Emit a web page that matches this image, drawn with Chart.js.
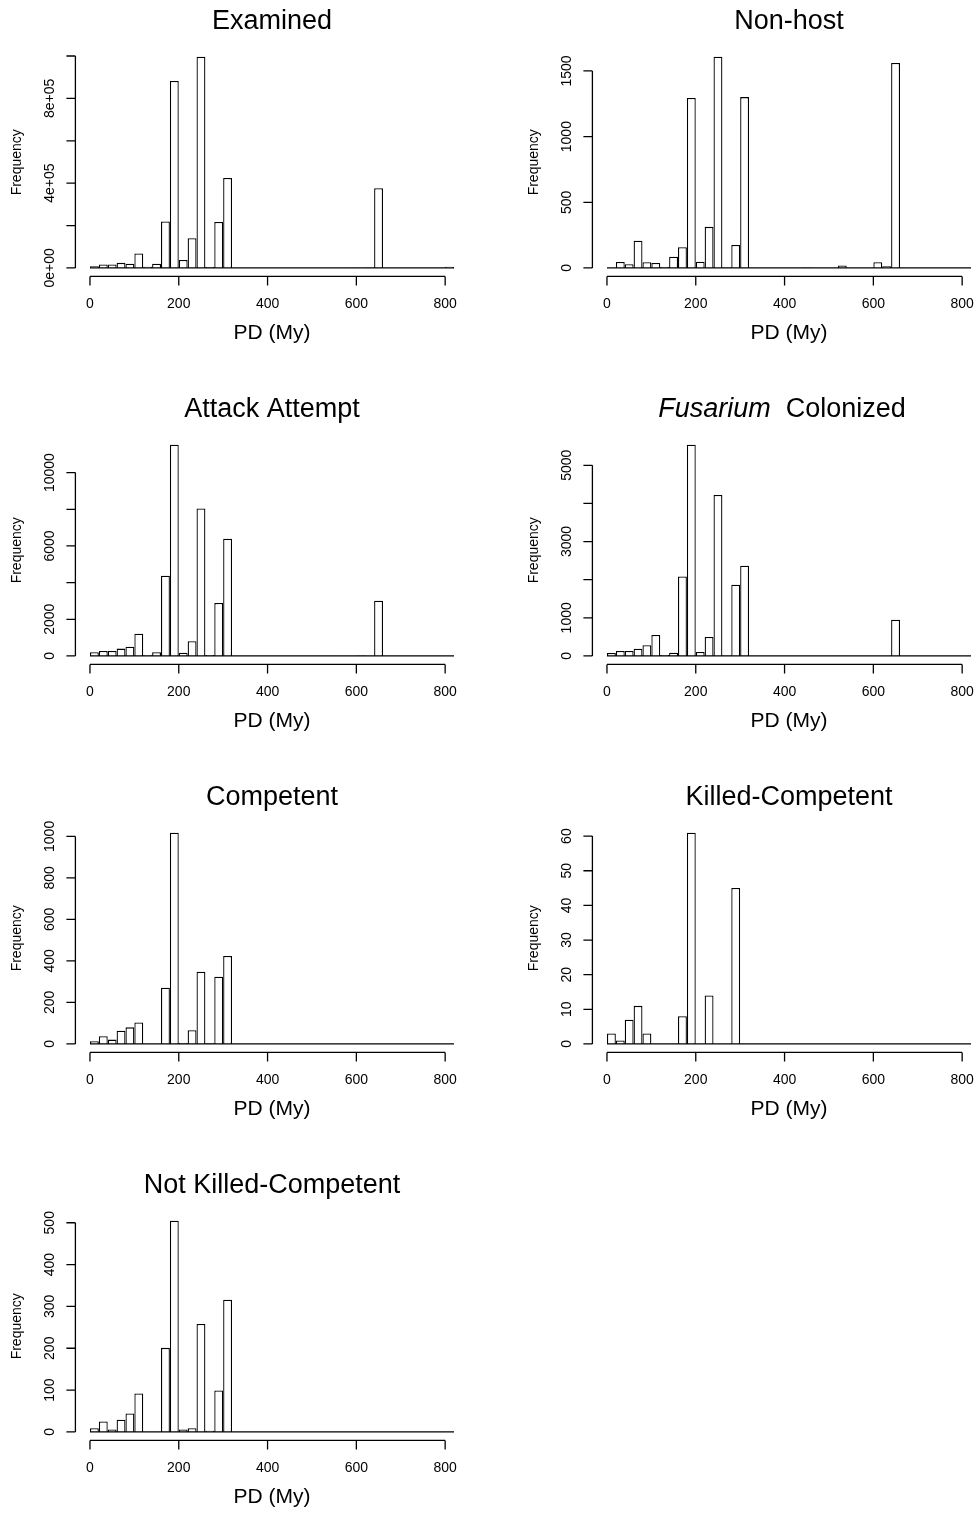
<!DOCTYPE html>
<html>
<head>
<meta charset="utf-8">
<script src="https://cdn.jsdelivr.net/npm/chart.js@4.4.1/dist/chart.umd.min.js"></script>
<style>
  html, body { margin: 0; padding: 0; background: #ffffff; overflow: hidden; width: 977px; height: 1514px; }
  canvas { position: absolute; }
</style>
</head>
<body>
<script>
// ---------- data ----------
const binCenters = [10, 30, 50, 70, 90, 110, 130, 150, 170, 190, 210, 230, 250, 270, 290, 310, 330, 350, 370, 390,
                    410, 430, 450, 470, 490, 510, 530, 550, 570, 590, 610, 630, 650, 670, 690, 710, 730, 750, 770, 790, 810];
const binRange = [0, 820];
const xTicks = [0, 200, 400, 600, 800];
const xTickLabels = ["0", "200", "400", "600", "800"];
const xAxisTitle = "PD (My)";
const yAxisTitle = "Frequency";

const examinedCounts = [8000, 16000, 16000, 24000, 20000, 68000, 6000, 20000, 219000, 882000, 38000, 140000, 997000, 5000, 217000, 425000,
                        0, 0, 0, 0, 0, 0, 0, 0, 0, 0, 0, 0, 0, 1000, 1500, 2500, 376000, 0, 0, 0, 0, 0, 0, 0, 6000];
const examinedYTicks = [0, 200000, 400000, 600000, 800000, 1000000];
const examinedYLabels = ["0e+00", "", "4e+05", "", "8e+05", ""];

const nonHostCounts = [0, 46, 28, 208, 43, 38, 8, 86, 158, 1294, 48, 313, 1609, 3, 175, 1301,
                       0, 0, 0, 0, 0, 0, 3, 0, 0, 0, 18, 0, 0, 0, 43, 13, 1561, 0, 0, 0, 0, 0, 0, 0, 0];
const nonHostYTicks = [0, 500, 1000, 1500];
const nonHostYLabels = ["0", "500", "1000", "1500"];

const attackCounts = [200, 272, 272, 400, 508, 1216, 36, 200, 4374, 11525, 181, 800, 8040, 54, 2886, 6390,
                      0, 0, 0, 0, 0, 0, 0, 0, 0, 0, 10, 0, 0, 0, 30, 0, 3013, 0, 0, 0, 0, 0, 0, 0, 0];
const attackYTicks = [0, 2000, 4000, 6000, 8000, 10000];
const attackYLabels = ["0", "2000", "", "6000", "", "10000"];

const fusariumCounts = [79, 131, 131, 192, 279, 550, 26, 87, 2086, 5541, 105, 497, 4223, 9, 1867, 2365,
                        0, 0, 0, 0, 0, 0, 0, 0, 0, 0, 5, 0, 0, 0, 0, 0, 951, 0, 0, 0, 0, 0, 0, 0, 0];
const fusariumYTicks = [0, 1000, 2000, 3000, 4000, 5000];
const fusariumYLabels = ["0", "1000", "", "3000", "", "5000"];

const competentCounts = [13, 37, 21, 64, 80, 103, 0, 0, 271, 1018, 5, 66, 348, 3, 324, 424,
                         0, 0, 0, 0, 0, 0, 0, 0, 0, 0, 0, 0, 0, 0, 0, 0, 0, 0, 0, 0, 0, 0, 0, 0, 0];
const competentYTicks = [0, 200, 400, 600, 800, 1000];
const competentYLabels = ["0", "200", "400", "600", "800", "1000"];

const killedCounts = [3, 1, 7, 11, 3, 0, 0, 0, 8, 61, 0, 14, 0, 0, 45, 0,
                      0, 0, 0, 0, 0, 0, 0, 0, 0, 0, 0, 0, 0, 0, 0, 0, 0, 0, 0, 0, 0, 0, 0, 0, 0];
const killedYTicks = [0, 10, 20, 30, 40, 50, 60];
const killedYLabels = ["0", "10", "20", "30", "40", "50", "60"];

const notKilledCounts = [9, 25, 6, 29, 44, 92, 0, 0, 201, 505, 6, 9, 258, 3, 99, 316,
                         0, 0, 0, 0, 0, 0, 0, 0, 0, 0, 0, 0, 0, 0, 0, 0, 0, 0, 0, 0, 0, 0, 0, 0, 0];
const notKilledYTicks = [0, 100, 200, 300, 400, 500];
const notKilledYLabels = ["0", "100", "200", "300", "400", "500"];

// ---------- layout ----------
const CELL_W = 517, CELL_H = 388;
const AREA = { left: 75.4, right: 468.6, top: 48.2, bottom: 276.4 };
const FONT = '"Liberation Sans", Arial, Helvetica, sans-serif';
const LW = 1.3;

const panels = [
  { title: [{ text: "Examined" }], counts: examinedCounts, yTicks: examinedYTicks, yLabels: examinedYLabels, col: 0, row: 0 },
  { title: [{ text: "Non-host" }], counts: nonHostCounts, yTicks: nonHostYTicks, yLabels: nonHostYLabels, col: 1, row: 0 },
  { title: [{ text: "Attack Attempt" }], counts: attackCounts, yTicks: attackYTicks, yLabels: attackYLabels, col: 0, row: 1 },
  { title: [{ text: "Fusarium", italic: true }, { text: "  Colonized" }], titleShift: -7, counts: fusariumCounts, yTicks: fusariumYTicks, yLabels: fusariumYLabels, col: 1, row: 1 },
  { title: [{ text: "Competent" }], counts: competentCounts, yTicks: competentYTicks, yLabels: competentYLabels, col: 0, row: 2 },
  { title: [{ text: "Killed-Competent" }], counts: killedCounts, yTicks: killedYTicks, yLabels: killedYLabels, col: 1, row: 2 },
  { title: [{ text: "Not Killed-Competent" }], counts: notKilledCounts, yTicks: notKilledYTicks, yLabels: notKilledYLabels, col: 0, row: 3 }
];

// R-style axes drawn from the chart's own scales
const rAxesPlugin = {
  id: 'rAxes',
  afterDatasetsDraw(chart, args, opts) {
    const ctx = chart.ctx;
    const xs = chart.scales.x, ys = chart.scales.y;
    const ca = chart.chartArea;
    ctx.save();
    ctx.strokeStyle = '#000';
    ctx.fillStyle = '#000';
    ctx.lineWidth = LW;
    ctx.lineCap = 'butt';

    // zero-height bars form the baseline across the whole bin range
    const y0 = ys.getPixelForValue(0);
    ctx.beginPath();
    ctx.moveTo(xs.getPixelForValue(binRange[0]), y0);
    ctx.lineTo(xs.getPixelForValue(binRange[1]), y0);
    ctx.stroke();

    // x axis
    const xb = ca.bottom;
    ctx.beginPath();
    ctx.moveTo(xs.getPixelForValue(xTicks[0]), xb);
    ctx.lineTo(xs.getPixelForValue(xTicks[xTicks.length - 1]), xb);
    xTicks.forEach(v => {
      const px = xs.getPixelForValue(v);
      ctx.moveTo(px, xb);
      ctx.lineTo(px, xb + 9);
    });
    ctx.stroke();
    ctx.font = '14px ' + FONT;
    ctx.textAlign = 'center';
    ctx.textBaseline = 'middle';
    xTicks.forEach((v, i) => {
      ctx.fillText(xTickLabels[i], xs.getPixelForValue(v), xb + 27.5);
    });
    ctx.font = '21px ' + FONT;
    ctx.textBaseline = 'alphabetic';
    ctx.fillText(xAxisTitle, (ca.left + ca.right) / 2, xb + 63);

    // y axis
    const yl = ca.left;
    const yt = opts.yTicks, yLab = opts.yLabels;
    ctx.beginPath();
    ctx.moveTo(yl, ys.getPixelForValue(yt[0]));
    ctx.lineTo(yl, ys.getPixelForValue(yt[yt.length - 1]));
    yt.forEach(v => {
      const py = ys.getPixelForValue(v);
      ctx.moveTo(yl, py);
      ctx.lineTo(yl - 9, py);
    });
    ctx.stroke();
    ctx.font = '14px ' + FONT;
    ctx.textAlign = 'center';
    ctx.textBaseline = 'middle';
    yt.forEach((v, i) => {
      if (!yLab[i]) return;
      ctx.save();
      ctx.translate(yl - 25.5, ys.getPixelForValue(v));
      ctx.rotate(-Math.PI / 2);
      ctx.fillText(yLab[i], 0, 0);
      ctx.restore();
    });
    ctx.save();
    ctx.translate(yl - 58.5, (ca.top + ca.bottom) / 2);
    ctx.rotate(-Math.PI / 2);
    ctx.fillText(yAxisTitle, 0, 0);
    ctx.restore();

    // main title (may mix italic and plain parts)
    const parts = opts.title;
    const fontOf = p => (p.italic ? 'italic ' : '') + '27px ' + FONT;
    let total = 0;
    parts.forEach(p => { ctx.font = fontOf(p); total += ctx.measureText(p.text).width; });
    let tx = (ca.left + ca.right) / 2 - total / 2 + (opts.titleShift || 0);
    ctx.textAlign = 'left';
    ctx.textBaseline = 'alphabetic';
    parts.forEach(p => {
      ctx.font = fontOf(p);
      ctx.fillText(p.text, tx, ca.top - 18.8);
      tx += ctx.measureText(p.text).width;
    });
    ctx.restore();
  }
};

panels.forEach(p => {
  const cv = document.createElement('canvas');
  cv.width = CELL_W;
  cv.height = CELL_H;
  cv.style.left = (p.col * CELL_W) + 'px';
  cv.style.top = (p.row * CELL_H) + 'px';
  cv.style.width = CELL_W + 'px';
  cv.style.height = CELL_H + 'px';
  document.body.appendChild(cv);

  const ymax = Math.max(...p.counts);
  const span = binRange[1] - binRange[0];

  new Chart(cv, {
    type: 'bar',
    data: {
      datasets: [{
        data: binCenters.map((x, i) => ({ x: x, y: p.counts[i] })),
        backgroundColor: '#ffffff',
        borderColor: '#000000',
        borderWidth: LW,
        borderSkipped: 'start',
        barPercentage: 1,
        categoryPercentage: 1,
        inflateAmount: 0
      }]
    },
    options: {
      responsive: false,
      animation: false,
      events: [],
      devicePixelRatio: 1,
      layout: { padding: { left: AREA.left, right: CELL_W - AREA.right, top: AREA.top, bottom: CELL_H - AREA.bottom } },
      plugins: {
        legend: { display: false },
        tooltip: { enabled: false },
        title: { display: false },
        rAxes: { title: p.title, titleShift: p.titleShift, yTicks: p.yTicks, yLabels: p.yLabels }
      },
      scales: {
        x: { type: 'linear', display: false, offset: false, grid: { offset: false },
             min: binRange[0] - 0.04 * span, max: binRange[1] + 0.04 * span },
        y: { type: 'linear', display: false, min: -0.04 * ymax, max: 1.04 * ymax }
      }
    },
    plugins: [rAxesPlugin]
  });
});
</script>
</body>
</html>
